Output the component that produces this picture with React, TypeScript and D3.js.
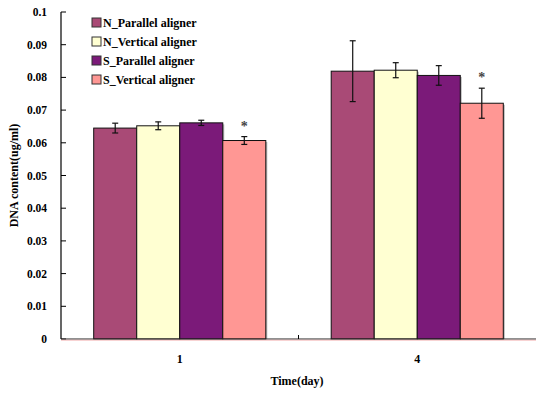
import React from 'react'
import * as d3 from 'd3'

// values
const days = ['1', '4']
const seriesNames = ['N_Parallel aligner', 'N_Vertical aligner', 'S_Parallel aligner', 'S_Vertical aligner']
const seriesColors = ['#A94A76', '#FFFFD2', '#7B1A79', '#FF9794']
const day1Means = [0.0645, 0.0652, 0.0661, 0.0607]
const day1Errors = [0.0015, 0.0012, 0.0008, 0.0012]
const day4Means = [0.0819, 0.0822, 0.0806, 0.0721]
const day4Errors = [0.0093, 0.0023, 0.003, 0.0046]
const starred = [[3], [3]]
const yTicks = [0, 0.01, 0.02, 0.03, 0.04, 0.05, 0.06, 0.07, 0.08, 0.09, 0.1]

const means = [day1Means, day4Means]
const errors = [day1Errors, day4Errors]

const width = 536
const height = 396
const margin = { top: 12, right: 0, bottom: 57, left: 61 }
const font = '"Liberation Serif", "Times New Roman", serif'

export default function App () {
  const x = d3.scaleBand()
    .domain(days)
    .range([margin.left, width - margin.right])

  const xInner = d3.scaleBand()
    .domain(seriesNames)
    .range([0, x.bandwidth()])
    .paddingOuter(0.76)
    .paddingInner(0)

  const y = d3.scaleLinear()
    .domain([0, 0.1])
    .range([height - margin.bottom, margin.top])

  const y0 = y(0)

  return (
    <div style={{ position: 'absolute', left: 0, top: 0 }}>
      <svg width={width} height={height} style={{ display: 'block', background: '#fff' }} fontFamily={font} fontWeight='bold'>
        {/* bars */}
        {days.map((day, gi) => (
          <g key={day} transform={`translate(${x(day)},0)`}>
            {seriesNames.map((s, si) => {
              const bx = xInner(s)
              const top = y(means[gi][si])
              return (
                <g key={s}>
                  <rect x={bx + 1.5} y={top + 1.5} width={xInner.bandwidth()} height={y0 - top - 1.5} fill='#b8b8b8' />
                  <rect x={bx} y={top} width={xInner.bandwidth()} height={y0 - top} fill={seriesColors[si]} stroke='#111' strokeWidth={1} />
                </g>
              )
            })}
            {seriesNames.map((s, si) => {
              const cx = xInner(s) + xInner.bandwidth() / 2
              const hi = y(means[gi][si] + errors[gi][si])
              const lo = y(means[gi][si] - errors[gi][si])
              return (
                <g key={s} stroke='#111' strokeWidth={1.2}>
                  <line x1={cx} x2={cx} y1={hi} y2={lo} />
                  <line x1={cx - 3} x2={cx + 3} y1={hi} y2={hi} />
                  <line x1={cx - 3} x2={cx + 3} y1={lo} y2={lo} />
                </g>
              )
            })}
            {starred[gi].map(si => {
              const cx = xInner(seriesNames[si]) + xInner.bandwidth() / 2
              const hi = y(means[gi][si] + errors[gi][si])
              return (
                <text key={si} x={cx} y={hi - 6} textAnchor='middle' fontSize={14} fill='#444'>*</text>
              )
            })}
          </g>
        ))}

        {/* y axis */}
        <line x1={margin.left} x2={margin.left} y1={margin.top} y2={y0} stroke='#000' strokeWidth={1.2} />
        {yTicks.map(t => (
          <g key={t}>
            <line x1={margin.left} x2={margin.left + 5} y1={y(t)} y2={y(t)} stroke='#000' />
            <text x={47} y={y(t)} dy='0.35em' textAnchor='end' fontSize={11.5}>{d3.format('')(t)}</text>
          </g>
        ))}

        {/* x axis */}
        <line x1={margin.left} x2={width} y1={y0} y2={y0} stroke='#222' strokeWidth={1.2} />
        <line x1={margin.left} x2={width} y1={y0 + 1.2} y2={y0 + 1.2} stroke='#f3b0b0' strokeWidth={0.8} />
        {days.slice(1).map(d => (
          <line key={d} x1={x(d)} x2={x(d)} y1={y0} y2={y0 - 4} stroke='#000' />
        ))}
        {days.map(d => (
          <text key={d} x={x(d) + x.bandwidth() / 2} y={363} textAnchor='middle' fontSize={12}>{d}</text>
        ))}
        <text x={297} y={385} textAnchor='middle' fontSize={12}>Time(day)</text>
        <text transform={`translate(18,${(margin.top + y0) / 2}) rotate(-90)`} textAnchor='middle' fontSize={12}>DNA content(ug/ml)</text>

        {/* legend */}
        {seriesNames.map((s, i) => (
          <g key={s} transform={`translate(92,${18 + i * 19})`}>
            <rect x={0} y={0} width={9} height={9} fill={seriesColors[i]} stroke='#333' strokeWidth={1} />
            <text x={11} y={4.5} dy='0.35em' fontSize={12}>{s}</text>
          </g>
        ))}
      </svg>
    </div>
  )
}
